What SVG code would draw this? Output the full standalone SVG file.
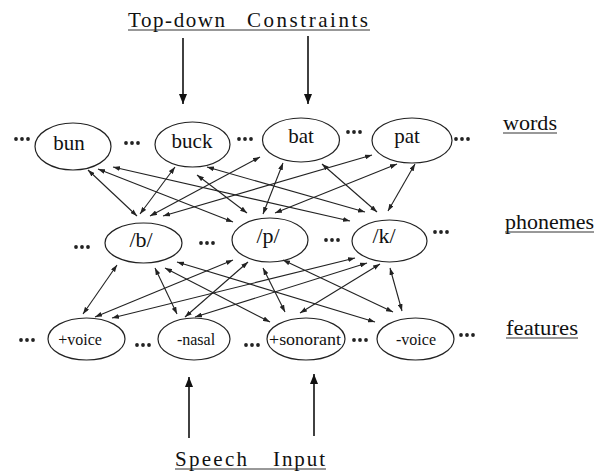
<svg xmlns="http://www.w3.org/2000/svg" xmlns:xlink="http://www.w3.org/1999/xlink" width="595" height="474" viewBox="0 0 595 474">
<defs>
<style>
.n{fill:none;stroke:#222;stroke-width:1.2}
.t{font-family:"Liberation Serif","Times New Roman",serif;fill:#111;text-anchor:middle}
.w{font-size:21px}
.p{font-size:22px}
.f{font-size:16px}
.lab{font-family:"Liberation Serif","Times New Roman",serif;fill:#111;font-size:21px}
.c line{stroke:#222;stroke-width:1.1;marker-start:url(#h);marker-end:url(#h)}
.big{stroke:#111;stroke-width:1.6;marker-end:url(#H)}
.ul{stroke:#333;stroke-width:1}
</style>
<marker id="h" viewBox="0 0 10 7" refX="10" refY="3.5" markerWidth="7" markerHeight="5" markerUnits="userSpaceOnUse" orient="auto-start-reverse"><path d="M0,0 L10,3.5 L0,7 z" fill="#222"/></marker>
<marker id="H" viewBox="0 0 10 8" refX="10" refY="4" markerWidth="10" markerHeight="8" markerUnits="userSpaceOnUse" orient="auto"><path d="M0,0 L10,4 L0,8 z" fill="#111"/></marker>
<g id="dots" fill="#222"><circle cx="-6" cy="0" r="1.9"/><circle cx="0" cy="0" r="1.9"/><circle cx="6" cy="0" r="1.9"/></g>
</defs>
<rect width="595" height="474" fill="#fff"/>

<g id="title">
<text class="lab" x="128" y="27" textLength="97" lengthAdjust="spacing">Top-down</text>
<text class="lab" x="247" y="27" textLength="121" lengthAdjust="spacing">Constraints</text>
<line class="ul" x1="128" y1="30" x2="370" y2="30"/>
</g>
<g id="speech">
<text class="lab" x="175" y="466" textLength="72" lengthAdjust="spacing">Speech</text>
<text class="lab" x="273" y="466" textLength="52" lengthAdjust="spacing">Input</text>
<line class="ul" x1="175" y1="469" x2="326" y2="469"/>
</g>
<g id="labels">
<text class="lab" x="503" y="130" textLength="54" lengthAdjust="spacingAndGlyphs">words</text>
<line class="ul" x1="503" y1="133" x2="557" y2="133"/>
<text class="lab" x="505" y="229" textLength="89" lengthAdjust="spacingAndGlyphs">phonemes</text>
<line class="ul" x1="505" y1="232" x2="594" y2="232"/>
<text class="lab" x="506" y="335" textLength="72" lengthAdjust="spacingAndGlyphs">features</text>
<line class="ul" x1="506" y1="338" x2="578" y2="338"/>
</g>

<g id="ext-arrows">
<line class="big" x1="183" y1="38" x2="183" y2="104"/>
<line class="big" x1="308" y1="36" x2="308" y2="104"/>
<line class="big" x1="189" y1="438" x2="189" y2="377"/>
<line class="big" x1="314" y1="436" x2="314" y2="374"/>
</g>

<g id="connectors" class="c">
<line x1="88" y1="170" x2="137" y2="216"/>
<line x1="98" y1="169" x2="233" y2="222"/>
<line x1="113" y1="167" x2="350" y2="221"/>
<line x1="175" y1="167" x2="140" y2="214"/>
<line x1="197" y1="175" x2="247" y2="213"/>
<line x1="207" y1="167" x2="365" y2="212"/>
<line x1="260" y1="157" x2="150" y2="216"/>
<line x1="283" y1="163" x2="263" y2="214"/>
<line x1="322" y1="164" x2="377" y2="212"/>
<line x1="372" y1="155" x2="163" y2="216"/>
<line x1="397" y1="164" x2="275" y2="213"/>
<line x1="415" y1="164" x2="388" y2="211"/>

<line x1="117" y1="265" x2="83" y2="314"/>
<line x1="155" y1="268" x2="177" y2="314"/>
<line x1="165" y1="268" x2="270" y2="322"/>
<line x1="177" y1="262" x2="375" y2="322"/>
<line x1="233" y1="260" x2="95" y2="317"/>
<line x1="248" y1="262" x2="185" y2="317"/>
<line x1="263" y1="268" x2="285" y2="312"/>
<line x1="283" y1="260" x2="393" y2="312"/>
<line x1="355" y1="258" x2="112" y2="318"/>
<line x1="367" y1="263" x2="195" y2="317"/>
<line x1="380" y1="264" x2="300" y2="313"/>
<line x1="390" y1="268" x2="402" y2="311"/>
</g>

<g id="bun"><ellipse class="n" cx="73" cy="146.5" rx="38" ry="23.5"/><text class="t w" x="69" y="150">bun</text></g>
<g id="buck"><ellipse class="n" cx="192.5" cy="144.5" rx="37.5" ry="22.5"/><text class="t w" x="192" y="148">buck</text></g>
<g id="bat"><ellipse class="n" cx="301" cy="140" rx="38.5" ry="22"/><text class="t w" x="301" y="143">bat</text></g>
<g id="pat"><ellipse class="n" cx="412" cy="140.5" rx="40" ry="22.5"/><text class="t w" x="407" y="143">pat</text></g>

<g id="ph-b"><ellipse class="n" cx="143.5" cy="243" rx="38.5" ry="20"/><text class="t p" x="141" y="247">/b/</text></g>
<g id="ph-p"><ellipse class="n" cx="270" cy="240" rx="38" ry="22"/><text class="t p" x="268" y="243">/p/</text></g>
<g id="ph-k"><ellipse class="n" cx="389.5" cy="241" rx="37.5" ry="21"/><text class="t p" x="384" y="243">/k/</text></g>

<g id="f-voice-plus"><ellipse class="n" cx="86.5" cy="339" rx="38.5" ry="21"/><text class="t f" x="80" y="345">+voice</text></g>
<g id="f-nasal"><ellipse class="n" cx="194" cy="339" rx="36" ry="21"/><text class="t f" x="196" y="345">-nasal</text></g>
<g id="f-sonorant"><ellipse class="n" cx="306" cy="339" rx="39" ry="21"/><text class="t f" x="305" y="345" textLength="72" lengthAdjust="spacingAndGlyphs">+sonorant</text></g>
<g id="f-voice-minus"><ellipse class="n" cx="415.5" cy="339" rx="38.5" ry="21"/><text class="t f" x="416" y="345">-voice</text></g>

<g id="ellipses">
<use xlink:href="#dots" x="22" y="139"/>
<use xlink:href="#dots" x="132" y="143"/>
<use xlink:href="#dots" x="245" y="139"/>
<use xlink:href="#dots" x="354" y="132"/>
<use xlink:href="#dots" x="462" y="139"/>
<use xlink:href="#dots" x="82" y="247"/>
<use xlink:href="#dots" x="207" y="243"/>
<use xlink:href="#dots" x="332" y="240"/>
<use xlink:href="#dots" x="441" y="232"/>
<use xlink:href="#dots" x="27" y="340"/>
<use xlink:href="#dots" x="143" y="345"/>
<use xlink:href="#dots" x="252" y="345"/>
<use xlink:href="#dots" x="360" y="340"/>
<use xlink:href="#dots" x="467" y="335"/>
</g>
</svg>
